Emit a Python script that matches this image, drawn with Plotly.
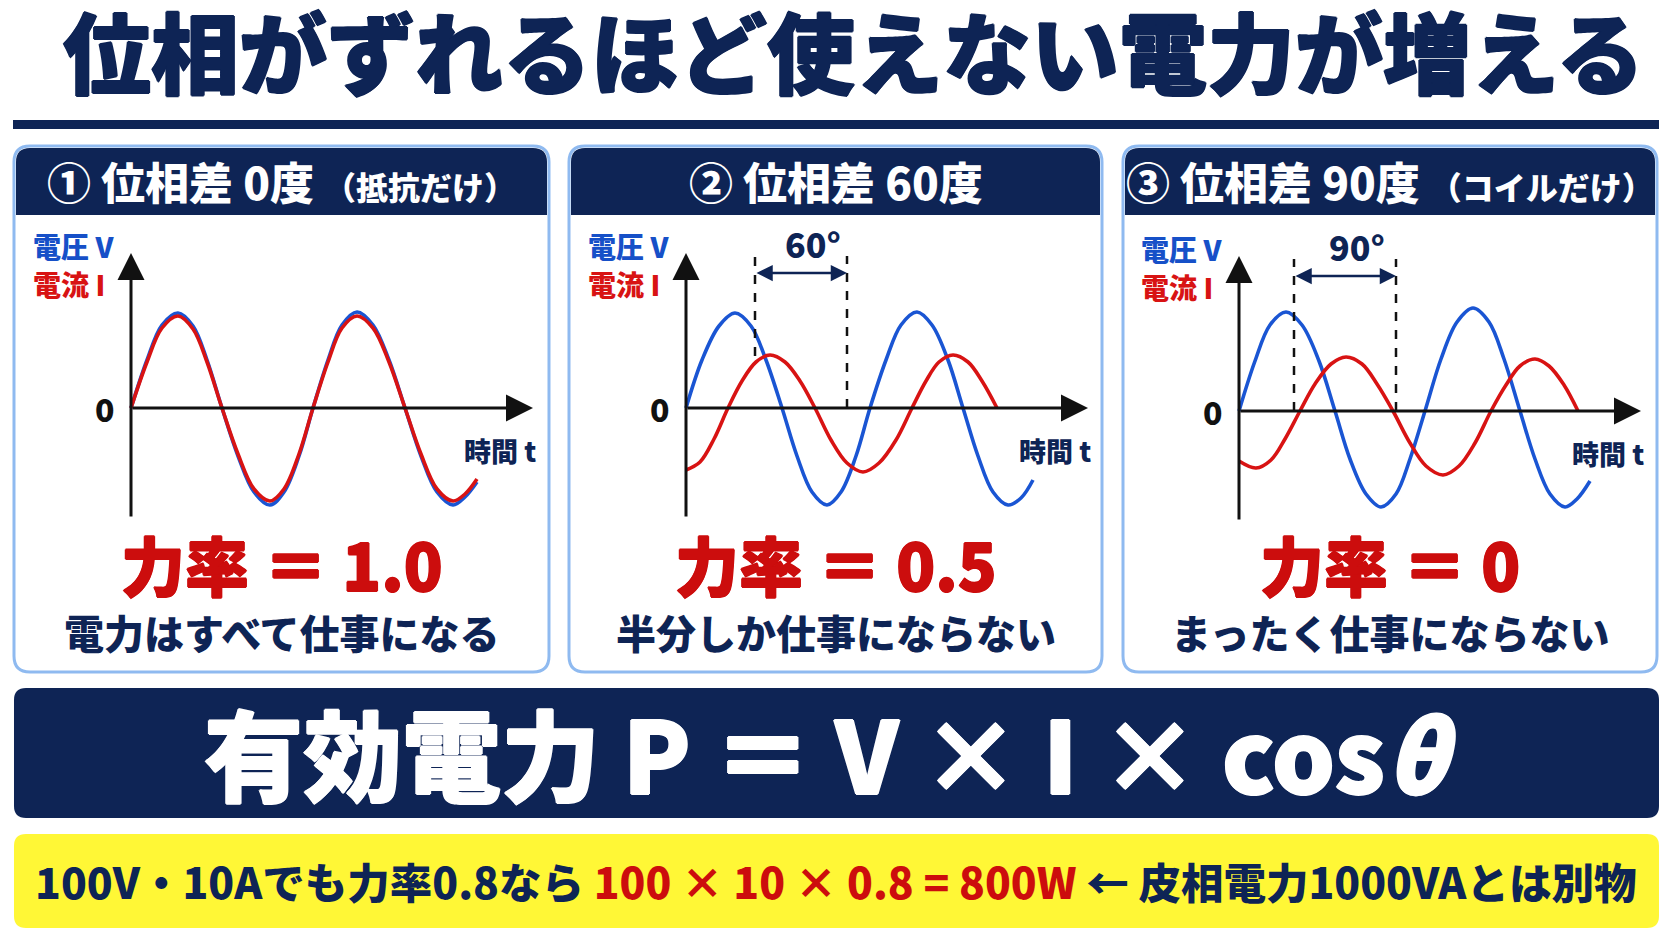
import plotly.graph_objects as go

W, H = 1672, 941
OFF = 8  # page body margin of the html file
FW, FH = W - 2 * OFF, H - 2 * OFF
FONT = "Noto Sans CJK JP"
NAVY = "#0e2455"
BLUE = "#1a55d3"
RED = "#d81313"
RED_TXT = "#cc0d0d"
BORDER = "#8fbaf0"
YELLOW = "#fff736"

# ---- data ----
title = "位相がずれるほど使えない電力が増える"
panel_titles = ["① 位相差 0度", "② 位相差 60度", "③ 位相差 90度"]
panel_notes = ["（抵抗だけ）", "", "（コイルだけ）"]
power_factors = ["1.0", "0.5", "0"]
captions = ["電力はすべて仕事になる", "半分しか仕事にならない", "まったく仕事にならない"]
phase_labels = ["", "60°", "90°"]

# time axis (arbitrary units) and wave heights for voltage (V) and current (I)
t_v1 = [0, 16, 31, 47, 62, 76, 91, 107, 123, 139, 153, 168, 182, 197, 211, 226, 242, 258, 274, 290, 306, 322, 334, 346]
v1 = [0, 48, 83, 95, 82, 48, 0, -48, -84, -97, -84, -48, 0, 48, 83, 96, 83, 48, 0, -48, -84, -97, -89, -74]
t_i1 = [0, 16, 31, 47, 62, 76, 91, 107, 123, 139, 153, 168, 182, 197, 211, 226, 242, 258, 274, 290, 306, 322, 334, 346]
i1 = [0, 46, 80, 92, 79, 46, 0, -46, -81, -93, -81, -46, 0, 46, 80, 92, 80, 46, 0, -46, -81, -93, -86, -71]

t_v2 = [0, 16, 33, 49, 65, 80, 96, 111, 126, 141, 155, 170, 184, 200, 215, 231, 246, 262, 277, 292, 307, 322, 335, 347]
v2 = [0, 48, 82, 95, 82, 48, 0, -48, -84, -97, -84, -48, 0, 48, 83, 96, 83, 48, 0, -48, -84, -97, -90, -72]
t_i2 = [0, 14, 28, 42, 56, 70, 84, 99, 114, 129, 145, 161, 177, 193, 210, 226, 240, 253, 267, 282, 296, 311]
i2 = [-62, -54, -31, 0, 27, 46, 53, 46, 27, 0, -32, -55, -64, -55, -32, 0, 27, 46, 53, 46, 27, 0]

t_v3 = [0, 16, 31, 47, 63, 80, 96, 111, 127, 142, 157, 171, 186, 202, 218, 234, 250, 265, 281, 296, 311, 326, 338, 351]
v3 = [0, 50, 86, 99, 86, 50, 0, -48, -83, -96, -83, -48, 0, 52, 89, 103, 89, 52, 0, -48, -83, -96, -88, -70]
t_i3 = [0, 17, 32, 46, 61, 76, 92, 107, 123, 138, 154, 171, 187, 204, 220, 236, 252, 267, 281, 296, 310, 325, 339]
i3 = [-50, -57, -49, -28, 0, 27, 47, 54, 47, 27, 0, -32, -55, -64, -55, -32, 0, 26, 45, 52, 45, 26, 0]

# phase-difference markers (same time units)
phase_marks = [[], [69, 161], [55, 157]]

formula = "有効電力 P ＝ V × I × cos<i>θ</i>"
example_a = "100V・10Aでも力率0.8なら "
example_b = "100 × 10 × 0.8 = 800W"
example_c = " ← 皮相電力1000VAとは別物"

waves = [(t_v1, v1, t_i1, i1), (t_v2, v2, t_i2, i2), (t_v3, v3, t_i3, i3)]


def px(x):
    return (x - OFF) / FW


def py(y):
    return 1 - (y - OFF) / FH


def thick(color, w):
    return ", ".join(f"{dx}px {dy}px 0 {color}" for dx, dy in [(w, 0), (-w, 0), (0, w), (0, -w)])


def rrect(x0, y0, x1, y1, r, top_only=False):
    rb = 0 if top_only else r
    pts = [
        ("M", x0 + r, y0), ("L", x1 - r, y0), ("Q", x1, y0, x1, y0 + r),
        ("L", x1, y1 - rb), ("Q", x1, y1, x1 - rb, y1),
        ("L", x0 + rb, y1), ("Q", x0, y1, x0, y1 - rb),
        ("L", x0, y0 + r), ("Q", x0, y0, x0 + r, y0),
    ]
    out = ""
    for p in pts:
        nums = p[1:]
        coords = []
        for j in range(0, len(nums), 2):
            coords.append(f"{px(nums[j]):.5f},{py(nums[j + 1]):.5f}")
        out += p[0] + " " + " ".join(coords) + " "
    return out + "Z"


def label(x, y, text, size, color, xref="paper", yref="paper", xanchor="center", bold=0):
    font = dict(family=FONT, size=size, color=color, weight=900)
    if bold:
        font["shadow"] = thick(color, bold)
    return dict(x=x, y=y, xref=xref, yref=yref, text=text, showarrow=False,
                xanchor=xanchor, yanchor="middle", font=font)


fig = go.Figure()
shapes = []
annotations = []

# title and underline
annotations.append(label(px(853), py(49), title, 88, NAVY, bold=1))
shapes.append(dict(type="rect", xref="paper", yref="paper", x0=px(13), x1=px(1659), y0=py(120), y1=py(129),
                   fillcolor=NAVY, line=dict(width=0), layer="below"))

panel_left = [14, 569, 1123]
panel_right = [549, 1102, 1657]
axis_x = [131, 686, 1239]
axis_y = [408, 408, 411]

for k in range(3):
    x0, x1 = panel_left[k], panel_right[k]
    cx = (x0 + x1) / 2
    shapes.append(dict(type="path", xref="paper", yref="paper", path=rrect(x0, 146, x1, 672, 16),
                       fillcolor="white", line=dict(color=BORDER, width=3), layer="below"))
    shapes.append(dict(type="path", xref="paper", yref="paper", path=rrect(x0 + 2, 148, x1 - 2, 215, 14, True),
                       fillcolor=NAVY, line=dict(width=0), layer="below"))
    head = panel_titles[k]
    if panel_notes[k]:
        head += " <span style='font-size:32px'>" + panel_notes[k] + "</span>"
    annotations.append(label(px(cx), py(181), head, 44, "white"))
    annotations.append(label(px(cx), py(563), "力率 ＝ " + power_factors[k], 64, RED_TXT, bold=0.8))
    annotations.append(label(px(cx), py(632), captions[k], 40, NAVY))

    xa = "x" if k == 0 else f"x{k + 1}"
    ya = "y" if k == 0 else f"y{k + 1}"
    ax_, ay_ = axis_x[k], axis_y[k]
    fig.update_layout({
        ("xaxis" if k == 0 else f"xaxis{k + 1}"): dict(domain=[px(ax_ - 115), px(ax_ + 420)], range=[-115, 420],
                                                       visible=False, fixedrange=True, anchor=ya),
        ("yaxis" if k == 0 else f"yaxis{k + 1}"): dict(domain=[py(535), py(235)], range=[ay_ - 535, ay_ - 235],
                                                       visible=False, fixedrange=True, anchor=xa),
    })

    tv, vv, ti, ii = waves[k]
    fig.add_trace(go.Scatter(x=tv, y=vv, mode="lines", line=dict(color=BLUE, width=3.6, shape="spline"),
                             xaxis=xa, yaxis=ya, hoverinfo="skip", showlegend=False))
    fig.add_trace(go.Scatter(x=ti, y=ii, mode="lines", line=dict(color=RED, width=3.6, shape="spline"),
                             xaxis=xa, yaxis=ya, hoverinfo="skip", showlegend=False))

    # axes with arrows
    annotations.append(dict(x=0, y=155, ax=0, ay=-110, xref=xa, yref=ya, axref=xa, ayref=ya, text="",
                            showarrow=True, arrowhead=2, arrowsize=1.8, arrowwidth=3, arrowcolor="#111111"))
    annotations.append(dict(x=402, y=0, ax=0, ay=0, xref=xa, yref=ya, axref=xa, ayref=ya, text="",
                            showarrow=True, arrowhead=2, arrowsize=1.8, arrowwidth=3, arrowcolor="#111111"))
    annotations.append(label(-100, 162, "電圧 V", 28, "#1650c8", xa, ya, "left"))
    annotations.append(label(-100, 124, "電流 I", 28, RED, xa, ya, "left"))
    annotations.append(label(-14, 0, "0", 32, "#111111", xa, ya, "right"))
    annotations.append(label(331, -43, "時間 t", 27, NAVY, xa, ya, "left"))

    if phase_marks[k]:
        a, b = phase_marks[k]
        shapes.append(dict(type="line", xref=xa, yref=ya, x0=a, x1=a, y0=52 if k == 1 else 0, y1=152,
                           line=dict(color="#111111", width=2.5, dash="dash")))
        shapes.append(dict(type="line", xref=xa, yref=ya, x0=b, x1=b, y0=0, y1=152,
                           line=dict(color="#111111", width=2.5, dash="dash")))
        annotations.append(dict(x=b, y=135, ax=a, ay=135, xref=xa, yref=ya, axref=xa, ayref=ya, text="",
                                showarrow=True, arrowhead=2, arrowside="end+start", arrowsize=1.3,
                                arrowwidth=2.5, arrowcolor=NAVY))
        annotations.append(label((a + b) / 2 + 12, 164, phase_labels[k], 34, NAVY, xa, ya))

# formula box
shapes.append(dict(type="path", xref="paper", yref="paper", path=rrect(14, 688, 1659, 818, 12),
                   fillcolor=NAVY, line=dict(width=0), layer="below"))
annotations.append(label(px(832), py(751), formula, 99, "white", bold=1))

# yellow example bar
shapes.append(dict(type="path", xref="paper", yref="paper", path=rrect(14, 834, 1659, 928, 12),
                   fillcolor=YELLOW, line=dict(width=0), layer="below"))
annotations.append(label(px(835), py(880),
                         example_a + f"<span style='color:{RED_TXT}'>" + example_b + "</span>" + example_c,
                         42.5, NAVY))

fig.update_layout(width=FW, height=FH, margin=dict(l=0, r=0, t=0, b=0), paper_bgcolor="white",
                  plot_bgcolor="rgba(0,0,0,0)", shapes=shapes, annotations=annotations, showlegend=False)

fig.write_html("out.html", config={"displayModeBar": False})
